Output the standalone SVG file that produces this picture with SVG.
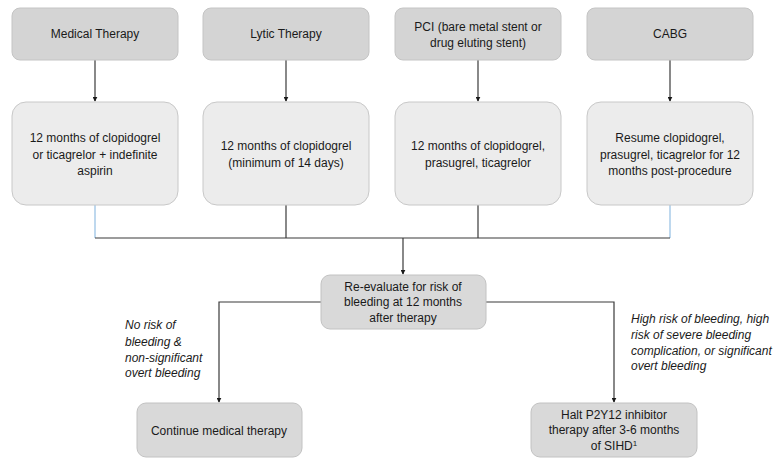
<svg xmlns="http://www.w3.org/2000/svg" width="777" height="459" viewBox="0 0 777 459">
  <style>
    .head rect { fill: #d4d4d4; stroke: #c4c4c4; stroke-width: 1; }
    .plan rect { fill: #ececec; stroke: #c8c8c8; stroke-width: 1; }
    .step rect { fill: #d9d9d9; stroke: #c2c2c2; stroke-width: 1; }
    text { font-family: "Liberation Sans", Arial, sans-serif; font-size: 12px; fill: #1a1a1a; text-anchor: middle; }
    .note { font-style: italic; text-anchor: start; font-size: 12px; }
    .wire { stroke: #3a3a3a; stroke-width: 1.2; fill: none; }
    .wire-blue { stroke: #a9cbe8; stroke-width: 1.5; fill: none; }
  </style>
  <defs>
    <marker id="arrow" viewBox="0 0 8 8" refX="7" refY="4" markerWidth="5" markerHeight="5" orient="auto" markerUnits="userSpaceOnUse">
      <path d="M0,0 L8,4 L0,8 z" fill="#1a1a1a"/>
    </marker>
  </defs>

  <rect width="777" height="459" fill="#ffffff"/>

  <!-- connectors -->
  <g id="connectors">
    <line class="wire" x1="95" y1="60" x2="95" y2="101" marker-end="url(#arrow)"/>
    <line class="wire" x1="286" y1="60" x2="286" y2="101" marker-end="url(#arrow)"/>
    <line class="wire" x1="478" y1="60" x2="478" y2="101" marker-end="url(#arrow)"/>
    <line class="wire" x1="670" y1="60" x2="670" y2="101" marker-end="url(#arrow)"/>

    <line class="wire-blue" x1="95" y1="205" x2="95" y2="238"/>
    <line class="wire-blue" x1="670" y1="205" x2="670" y2="238"/>
    <line class="wire" x1="286" y1="205" x2="286" y2="238"/>
    <line class="wire" x1="478" y1="205" x2="478" y2="238"/>
    <line class="wire" x1="95" y1="238" x2="670" y2="238"/>

    <line class="wire" x1="403" y1="238" x2="403" y2="274" marker-end="url(#arrow)"/>

    <polyline class="wire" points="321,302 219,302 219,402" marker-end="url(#arrow)"/>
    <polyline class="wire" points="486,302 614,302 614,402" marker-end="url(#arrow)"/>
  </g>

  <!-- entry therapies -->
  <g id="medical-therapy" class="head">
    <rect x="12" y="8" width="166" height="52" rx="8"/>
    <text x="95" y="38">Medical Therapy</text>
  </g>
  <g id="lytic-therapy" class="head">
    <rect x="203" y="8" width="166" height="52" rx="8"/>
    <text x="286" y="38">Lytic Therapy</text>
  </g>
  <g id="pci" class="head">
    <rect x="395" y="8" width="166" height="52" rx="8"/>
    <text x="478" y="31">PCI (bare metal stent or</text>
    <text x="478" y="47">drug eluting stent)</text>
  </g>
  <g id="cabg" class="head">
    <rect x="587" y="8" width="166" height="52" rx="8"/>
    <text x="670" y="38">CABG</text>
  </g>

  <!-- regimens -->
  <g id="medical-regimen" class="plan">
    <rect x="12" y="102" width="166" height="103" rx="14"/>
    <text x="95" y="142">12 months of clopidogrel</text>
    <text x="95" y="159">or ticagrelor + indefinite</text>
    <text x="95" y="175">aspirin</text>
  </g>
  <g id="lytic-regimen" class="plan">
    <rect x="203" y="102" width="166" height="103" rx="14"/>
    <text x="286" y="150">12 months of clopidogrel</text>
    <text x="286" y="167">(minimum of 14 days)</text>
  </g>
  <g id="pci-regimen" class="plan">
    <rect x="395" y="102" width="166" height="103" rx="14"/>
    <text x="478" y="150">12 months of clopidogrel,</text>
    <text x="478" y="167">prasugrel, ticagrelor</text>
  </g>
  <g id="cabg-regimen" class="plan">
    <rect x="587" y="102" width="166" height="103" rx="14"/>
    <text x="670" y="142">Resume clopidogrel,</text>
    <text x="670" y="159">prasugrel, ticagrelor for 12</text>
    <text x="670" y="175">months post-procedure</text>
  </g>

  <!-- reassessment -->
  <g id="re-evaluate" class="step">
    <rect x="321" y="275" width="165" height="54" rx="9"/>
    <text x="403" y="291">Re-evaluate for risk of</text>
    <text x="403" y="306">bleeding at 12 months</text>
    <text x="403" y="322">after therapy</text>
  </g>

  <!-- branch conditions -->
  <g id="label-no-risk">
    <text class="note" x="125" y="329">No risk of</text>
    <text class="note" x="125" y="346">bleeding &amp;</text>
    <text class="note" x="125" y="362">non-significant</text>
    <text class="note" x="125" y="377">overt bleeding</text>
  </g>
  <g id="label-high-risk">
    <text class="note" x="631" y="323">High risk of bleeding, high</text>
    <text class="note" x="631" y="339">risk of severe bleeding</text>
    <text class="note" x="631" y="355">complication, or significant</text>
    <text class="note" x="631" y="370">overt bleeding</text>
  </g>

  <!-- outcomes -->
  <g id="continue-therapy" class="step">
    <rect x="137" y="403" width="165" height="54" rx="9"/>
    <text x="219" y="435">Continue medical therapy</text>
  </g>
  <g id="halt-p2y12" class="step">
    <rect x="531" y="403" width="166" height="54" rx="9"/>
    <text x="614" y="419">Halt P2Y12 inhibitor</text>
    <text x="614" y="434">therapy after 3-6 months</text>
    <text x="614" y="450">of SIHD<tspan font-size="8" dy="-4">1</tspan></text>
  </g>
</svg>
